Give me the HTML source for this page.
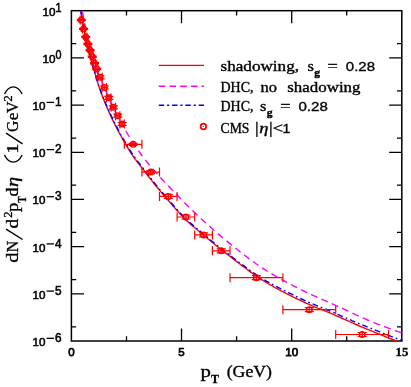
<!DOCTYPE html>
<html><head><meta charset="utf-8"><title>plot</title>
<style>html,body{margin:0;padding:0;background:#fff}svg{display:block}</style></head>
<body>
<svg width="411" height="387" viewBox="0 0 411 387">
<rect width="411" height="387" fill="#fff"/>
<filter id="gs" x="0" y="0" width="100%" height="100%" filterUnits="userSpaceOnUse" color-interpolation-filters="sRGB"><feColorMatrix type="saturate" values="0"/></filter>
<clipPath id="c"><rect x="71.4" y="11.299999999999999" width="331.2" height="330.5"/></clipPath>
<g stroke="#000" stroke-width="1.5" fill="none">
<rect x="71.4" y="10.7" width="330.4" height="330.3"/>
<path d="M71.4,326.8h4.8M401.8,326.8h-4.8M71.4,293.8h12.6M401.8,293.8h-12.6M71.4,279.6h4.8M401.8,279.6h-4.8M71.4,246.6h12.6M401.8,246.6h-12.6M71.4,232.4h4.8M401.8,232.4h-4.8M71.4,199.4h12.6M401.8,199.4h-12.6M71.4,185.2h4.8M401.8,185.2h-4.8M71.4,152.3h12.6M401.8,152.3h-12.6M71.4,138.1h4.8M401.8,138.1h-4.8M71.4,105.1h12.6M401.8,105.1h-12.6M71.4,90.9h4.8M401.8,90.9h-4.8M71.4,57.9h12.6M401.8,57.9h-12.6M71.4,43.7h4.8M401.8,43.7h-4.8M126.5,341.0v-4.8M126.5,10.7v4.8M181.5,341.0v-12.6M181.5,10.7v12.6M236.6,341.0v-4.8M236.6,10.7v4.8M291.7,341.0v-12.6M291.7,10.7v12.6M346.7,341.0v-4.8M346.7,10.7v4.8" stroke-width="1.3"/>
</g>
<g clip-path="url(#c)" fill="none" stroke-width="1.4">
<path d="M78.0,-10.3 L79.2,-0.3 L80.4,8.4 L81.7,16.3 L82.9,23.4 L84.1,29.9 L85.3,36.0 L86.5,41.6 L87.8,46.9 L89.0,51.9 L90.2,56.6 L91.4,61.1 L92.6,65.4 L93.9,69.7 L95.1,73.9 L96.3,78.0 L97.5,81.9 L98.7,85.8 L100.0,89.5 L101.2,92.9 L102.4,96.2 L103.6,99.3 L104.8,102.3 L106.0,105.3 L107.3,108.1 L108.5,110.9 L109.7,113.6 L110.9,116.3 L112.1,118.9 L113.4,121.4 L114.6,123.9 L115.8,126.3 L117.0,128.7 L118.2,131.0 L119.5,133.3 L120.7,135.5 L121.9,137.7 L123.1,139.9 L124.3,142.0 L125.6,144.1 L126.8,146.2 L128.0,148.2 L129.2,150.2 L130.4,152.2 L131.7,154.1 L132.9,155.9 L134.1,157.6 L135.3,159.3 L136.5,160.9 L137.8,162.5 L139.0,164.1 L140.2,165.6 L141.4,167.2 L142.6,168.7 L143.9,170.3 L145.1,171.9 L146.3,173.5 L147.5,175.1 L148.7,176.7 L150.0,178.3 L151.2,179.9 L152.4,181.4 L153.6,183.0 L154.8,184.5 L156.0,186.0 L157.3,187.5 L158.5,189.0 L159.7,190.4 L160.9,191.9 L162.1,193.3 L163.4,194.7 L164.6,196.1 L165.8,197.5 L167.0,199.0 L168.2,200.4 L169.5,201.8 L170.7,203.2 L171.9,204.6 L173.1,206.0 L174.3,207.4 L175.6,208.8 L176.8,210.2 L178.0,211.6 L179.2,212.9 L180.4,214.3 L181.7,215.6 L182.9,216.8 L184.1,218.1 L185.3,219.3 L186.5,220.5 L187.8,221.6 L189.0,222.7 L190.2,223.8 L191.4,224.9 L192.6,225.9 L193.9,227.0 L195.1,228.0 L196.3,229.0 L197.5,230.0 L198.7,231.0 L200.0,232.1 L201.2,233.1 L202.4,234.1 L203.6,235.2 L204.8,236.2 L206.0,237.3 L207.3,238.3 L208.5,239.3 L209.7,240.3 L210.9,241.3 L212.1,242.3 L213.4,243.3 L214.6,244.3 L215.8,245.3 L217.0,246.3 L218.2,247.3 L219.5,248.2 L220.7,249.2 L221.9,250.1 L223.1,251.1 L224.3,252.0 L225.6,253.0 L226.8,253.9 L228.0,254.8 L229.2,255.8 L230.4,256.7 L231.7,257.6 L232.9,258.6 L234.1,259.5 L235.3,260.5 L236.5,261.4 L237.8,262.3 L239.0,263.3 L240.2,264.2 L241.4,265.2 L242.6,266.1 L243.9,267.0 L245.1,267.9 L246.3,268.8 L247.5,269.8 L248.7,270.7 L250.0,271.6 L251.2,272.4 L252.4,273.3 L253.6,274.2 L254.8,275.0 L256.0,275.9 L257.3,276.7 L258.5,277.5 L259.7,278.4 L260.9,279.1 L262.1,279.9 L263.4,280.7 L264.6,281.4 L265.8,282.2 L267.0,282.9 L268.2,283.6 L269.5,284.3 L270.7,285.0 L271.9,285.7 L273.1,286.4 L274.3,287.1 L275.6,287.8 L276.8,288.4 L278.0,289.1 L279.2,289.8 L280.4,290.4 L281.7,291.1 L282.9,291.7 L284.1,292.3 L285.3,293.0 L286.5,293.6 L287.8,294.2 L289.0,294.8 L290.2,295.4 L291.4,296.1 L292.6,296.7 L293.9,297.3 L295.1,297.9 L296.3,298.5 L297.5,299.1 L298.7,299.6 L300.0,300.2 L301.2,300.8 L302.4,301.4 L303.6,301.9 L304.8,302.5 L306.0,303.1 L307.3,303.6 L308.5,304.2 L309.7,304.7 L310.9,305.2 L312.1,305.8 L313.4,306.3 L314.6,306.8 L315.8,307.3 L317.0,307.8 L318.2,308.3 L319.5,308.7 L320.7,309.2 L321.9,309.7 L323.1,310.2 L324.3,310.6 L325.6,311.1 L326.8,311.6 L328.0,312.1 L329.2,312.6 L330.4,313.1 L331.7,313.7 L332.9,314.2 L334.1,314.7 L335.3,315.3 L336.5,315.8 L337.8,316.4 L339.0,316.9 L340.2,317.4 L341.4,318.0 L342.6,318.5 L343.9,319.1 L345.1,319.6 L346.3,320.1 L347.5,320.7 L348.7,321.2 L350.0,321.8 L351.2,322.3 L352.4,322.9 L353.6,323.4 L354.8,323.9 L356.0,324.5 L357.3,325.0 L358.5,325.5 L359.7,326.1 L360.9,326.6 L362.1,327.1 L363.4,327.6 L364.6,328.1 L365.8,328.7 L367.0,329.2 L368.2,329.7 L369.5,330.2 L370.7,330.7 L371.9,331.2 L373.1,331.7 L374.3,332.2 L375.6,332.7 L376.8,333.2 L378.0,333.7 L379.2,334.2 L380.4,334.7 L381.7,335.2 L382.9,335.6 L384.1,336.1 L385.3,336.6 L386.5,337.1 L387.8,337.6 L389.0,338.1 L390.2,338.6 L391.4,339.0 L392.6,339.5 L393.9,340.0 L395.1,340.5 L396.3,340.9 L397.5,341.4 L398.7,341.9 L400.0,342.4 L401.2,342.8 L402.4,343.3" stroke="#ff0000"/>
<path d="M78.0,-19.8L78.2,-18.1M79.0,-11.4L79.8,-5.3M80.6,0.3L81.5,5.6M82.5,11.8L83.5,17.6M84.5,23.1L85.7,29.5M86.7,34.4L88.2,41.0M89.4,46.1L90.8,51.7M92.2,57.0L94.3,63.6M95.9,67.8L98.3,73.2L98.7,74.1M100.6,78.5L103.0,84.3L103.2,84.7M105.2,89.5L107.7,95.1L107.9,95.6M109.9,100.2L112.3,105.6L112.8,106.5M114.8,110.7L117.2,115.5L117.8,116.6M120.1,120.8L122.5,125.3L123.5,127.1M125.8,130.9L128.2,135.0L129.4,137.0M131.9,140.9L134.3,144.6L135.7,146.8M138.4,150.6L140.8,154.0L142.4,156.2M145.3,159.9L147.7,163.0L149.5,165.2M152.6,168.8L155.0,171.6L157.3,174.1M160.3,177.4L162.8,180.0L165.0,182.4M168.2,185.8L170.7,188.3L173.1,190.9L173.1,190.9M176.2,194.1L178.6,196.6L181.0,199.1L181.0,199.1M184.3,202.4L186.7,204.9L189.2,207.3L189.2,207.3M192.4,210.5L194.9,212.8L197.3,215.1L197.5,215.3M200.8,218.4L203.2,220.6L205.6,222.8L205.8,223.0M209.3,226.1L211.7,228.3L214.2,230.4L214.4,230.6M217.8,233.6L220.3,235.6L222.7,237.7L223.1,238.0M226.6,240.9L229.0,242.9L231.5,244.9L231.9,245.2M235.3,248.0L237.8,250.0L240.2,251.9L240.6,252.2M244.1,254.9L246.5,256.7L248.9,258.6L249.3,258.9M253.0,261.5L255.4,263.3L257.9,265.0L258.5,265.4M262.1,267.8L264.6,269.4L267.0,271.0L267.8,271.5M271.5,273.7L273.9,275.1L276.4,276.6L277.4,277.1M281.3,279.3L283.7,280.6L286.1,281.9L287.1,282.5M291.0,284.5L293.4,285.8L295.9,287.0L297.1,287.7M301.0,289.6L303.4,290.8L305.8,292.0L307.1,292.6M311.1,294.5L313.6,295.6L316.0,296.7L317.4,297.4M321.3,299.1L323.7,300.2L326.2,301.2L327.8,301.9M331.7,303.6L334.1,304.7L336.5,305.8L338.2,306.5M342.0,308.2L344.5,309.4L346.9,310.5L348.3,311.2M352.4,313.1L354.8,314.2L357.3,315.4L358.7,316.0M362.8,317.9L365.2,318.9L367.6,320.0L369.3,320.7M373.3,322.3L375.8,323.3L378.2,324.3L379.8,324.9M384.1,326.5L386.5,327.4L389.0,328.3L390.6,328.9M394.9,330.5L397.3,331.4L399.7,332.2L401.6,332.8" stroke="#ff00ff"/>
<path d="M78.4,-6.8L78.4,-6.8M79.0,-1.9L79.6,2.7M80.0,5.6L80.2,7.0M80.8,11.1L81.5,15.0M82.3,19.9L82.3,19.9M83.1,24.5L83.9,28.9M84.7,33.0L84.9,34.0M85.5,37.0L86.7,42.5M87.6,46.1L87.8,46.9M88.6,50.3L89.8,55.1M90.8,58.9L91.0,59.7M92.0,63.3L93.4,68.3M94.5,71.8L94.9,73.2M95.7,75.9L97.3,81.2M98.3,84.4L98.7,85.6M100.0,89.1L101.8,94.1M103.0,97.1L103.6,98.6M104.8,101.4L107.1,106.6M108.5,109.7L109.1,111.1M110.3,113.8L112.8,119.0L112.8,119.0M114.2,121.9L114.8,123.1M116.2,125.9L118.7,130.6L118.9,131.0M120.5,134.0L121.1,135.1M122.7,138.0L125.2,142.2L125.6,142.9M127.0,145.3L127.8,146.7M129.4,149.4L131.9,153.2L132.7,154.4M134.3,156.7L135.3,158.1M137.1,160.6L139.6,163.7L140.6,165.0M142.6,167.6L143.7,168.9M145.5,171.3L147.9,174.5L148.9,175.9M150.8,178.3L151.8,179.6M153.6,181.9L156.0,184.9L157.3,186.4M159.3,188.9L160.3,190.1M162.1,192.2L164.6,195.1L166.0,196.7M168.0,199.1L169.1,200.3M171.1,202.6L173.5,205.5L174.7,206.9M176.8,209.2L178.0,210.6M180.0,212.8L182.5,215.4L183.9,216.9M186.1,219.1L187.3,220.2M189.6,222.3L192.0,224.4L193.9,226.0M196.3,228.0L197.5,229.0M199.7,230.9L202.2,233.0L204.2,234.7M206.5,236.6L207.9,237.8M210.1,239.7L212.6,241.7L214.6,243.3M217.0,245.3L218.2,246.3M220.7,248.2L223.1,250.1L225.2,251.7M227.6,253.5L229.0,254.6M231.3,256.3L233.7,258.2L235.9,259.9M238.4,261.8L239.6,262.7M242.0,264.5L244.5,266.3L246.7,268.0M249.1,269.7L250.6,270.8M253.0,272.5L255.4,274.1L257.9,275.8L257.9,275.8M260.3,277.3L261.7,278.2M264.4,279.8L266.8,281.3L269.3,282.7L269.3,282.7M271.9,284.1L273.5,285.0M276.2,286.4L278.6,287.7L281.0,288.9L281.3,289.0M283.9,290.4L285.5,291.2M288.2,292.5L290.6,293.7L293.0,294.9L293.4,295.1M296.1,296.4L297.5,297.1M300.2,298.3L302.6,299.5L305.0,300.6L305.6,300.9M308.3,302.1L309.9,302.8M312.6,303.9L315.0,304.9L317.4,305.9L318.0,306.2M320.7,307.2L322.3,307.8M325.2,309.0L327.6,310.0L330.0,311.0L330.4,311.1M333.3,312.4L334.9,313.1M337.6,314.3L340.0,315.3L342.4,316.4L342.8,316.6M345.7,317.9L347.1,318.5M350.0,319.7L352.4,320.8L354.8,321.8L355.2,322.0M358.1,323.2L359.5,323.8M362.3,324.9L364.8,325.9L367.2,326.9L367.6,327.1M370.5,328.2L372.1,328.8M374.7,329.9L377.2,330.9L379.6,331.8L380.2,332.1M383.1,333.2L384.7,333.8M387.3,334.9L389.8,335.8L392.2,336.8L392.8,337.0M395.7,338.1L397.3,338.8M400.0,339.8L402.4,340.7L403.0,340.9" stroke="#0000ff"/>
</g>
<g stroke="#ff0000" stroke-width="1.2" fill="none">
<path d="M80.2,20.0H82.4M80.2,15.5v9.0M82.4,15.5v9.0M81.3,19.4v1.2M76.8,19.4h9.0M76.8,20.6h9.0"/>
<circle cx="81.3" cy="20.0" r="2.8" stroke-width="1.4"/>
<path d="M82.4,28.9H84.6M82.4,24.4v9.0M84.6,24.4v9.0M83.5,28.299999999999997v1.2M79.0,28.299999999999997h9.0M79.0,29.5h9.0"/>
<circle cx="83.5" cy="28.9" r="2.8" stroke-width="1.4"/>
<path d="M84.6,36.9H86.8M84.6,32.4v9.0M86.8,32.4v9.0M85.7,36.3v1.2M81.2,36.3h9.0M81.2,37.5h9.0"/>
<circle cx="85.7" cy="36.9" r="2.8" stroke-width="1.4"/>
<path d="M86.8,44H89.0M86.8,39.5v9.0M89.0,39.5v9.0M87.9,43.4v1.2M83.4,43.4h9.0M83.4,44.6h9.0"/>
<circle cx="87.9" cy="44" r="2.8" stroke-width="1.4"/>
<path d="M89.0,50.3H91.2M89.0,45.8v9.0M91.2,45.8v9.0M90.1,49.699999999999996v1.2M85.6,49.699999999999996h9.0M85.6,50.9h9.0"/>
<circle cx="90.1" cy="50.3" r="2.8" stroke-width="1.4"/>
<path d="M91.2,56.8H93.4M91.2,52.3v9.0M93.4,52.3v9.0M92.3,56.199999999999996v1.2M87.8,56.199999999999996h9.0M87.8,57.4h9.0"/>
<circle cx="92.3" cy="56.8" r="2.8" stroke-width="1.4"/>
<path d="M93.4,63.3H95.6M93.4,58.8v9.0M95.6,58.8v9.0M94.5,62.699999999999996v1.2M90.0,62.699999999999996h9.0M90.0,63.9h9.0"/>
<circle cx="94.5" cy="63.3" r="2.8" stroke-width="1.4"/>
<path d="M95.6,69H97.8M95.6,64.5v9.0M97.8,64.5v9.0M96.7,68.4v1.2M92.2,68.4h9.0M92.2,69.6h9.0"/>
<circle cx="96.7" cy="69" r="2.8" stroke-width="1.4"/>
<path d="M97.8,77.3H102.2M97.8,72.8v9.0M102.2,72.8v9.0M100.0,75.8v3.0M95.5,75.8h9.0M95.5,78.8h9.0"/>
<circle cx="100.0" cy="77.3" r="2.8" stroke-width="1.4"/>
<path d="M102.2,87.5H106.6M102.2,83.0v9.0M106.6,83.0v9.0M104.4,86.0v3.0M99.9,86.0h9.0M99.9,89.0h9.0"/>
<circle cx="104.4" cy="87.5" r="2.8" stroke-width="1.4"/>
<path d="M106.6,97.8H111.0M106.6,93.3v9.0M111.0,93.3v9.0M108.8,96.3v3.0M104.3,96.3h9.0M104.3,99.3h9.0"/>
<circle cx="108.8" cy="97.8" r="2.8" stroke-width="1.4"/>
<path d="M111.0,107.3H115.5M111.0,102.8v9.0M115.5,102.8v9.0M113.3,105.8v3.0M108.8,105.8h9.0M108.8,108.8h9.0"/>
<circle cx="113.3" cy="107.3" r="2.8" stroke-width="1.4"/>
<path d="M115.5,115.7H119.9M115.5,111.2v9.0M119.9,111.2v9.0M117.7,114.2v3.0M113.2,114.2h9.0M113.2,117.2h9.0"/>
<circle cx="117.7" cy="115.7" r="2.8" stroke-width="1.4"/>
<path d="M119.9,124.0H124.3M119.9,119.5v9.0M124.3,119.5v9.0M122.1,122.5v3.0M117.6,122.5h9.0M117.6,125.5h9.0"/>
<circle cx="122.1" cy="124.0" r="2.8" stroke-width="1.4"/>
<path d="M124.3,144.3H141.9M124.3,139.8v9.0M141.9,139.8v9.0M133.1,143.3v2.0M128.6,143.3h9.0M128.6,145.3h9.0"/>
<circle cx="133.1" cy="144.3" r="2.8" stroke-width="1.4"/>
<path d="M141.9,172.1H159.5M141.9,167.6v9.0M159.5,167.6v9.0M150.7,170.6v3.0M146.2,170.6h9.0M146.2,173.6h9.0"/>
<circle cx="150.7" cy="172.1" r="2.8" stroke-width="1.4"/>
<path d="M159.5,196.4H177.1M159.5,191.9v9.0M177.1,191.9v9.0M168.3,194.4v4.0M163.8,194.4h9.0M163.8,198.4h9.0"/>
<circle cx="168.3" cy="196.4" r="2.8" stroke-width="1.4"/>
<path d="M177.1,217.0H194.7M177.1,212.5v9.0M194.7,212.5v9.0M185.9,215.0v4.0M181.4,215.0h9.0M181.4,219.0h9.0"/>
<circle cx="185.9" cy="217.0" r="2.8" stroke-width="1.4"/>
<path d="M194.7,234.9H212.4M194.7,230.4v9.0M212.4,230.4v9.0M203.6,232.9v4.0M199.1,232.9h9.0M199.1,236.9h9.0"/>
<circle cx="203.6" cy="234.9" r="2.8" stroke-width="1.4"/>
<path d="M212.4,250.8H230.0M212.4,246.3v9.0M230.0,246.3v9.0M221.2,248.8v4.0M216.7,248.8h9.0M216.7,252.8h9.0"/>
<circle cx="221.2" cy="250.8" r="2.8" stroke-width="1.4"/>
<path d="M230.0,277.7H282.9M230.0,273.2v9.0M282.9,273.2v9.0M256.4,275.7v4.0M251.9,275.7h9.0M251.9,279.7h9.0"/>
<circle cx="256.4" cy="277.7" r="2.8" stroke-width="1.4"/>
<path d="M282.9,309.7H335.7M282.9,305.2v9.0M335.7,305.2v9.0M309.3,307.7v4.0M304.8,307.7h9.0M304.8,311.7h9.0"/>
<circle cx="309.3" cy="309.7" r="2.8" stroke-width="1.4"/>
<path d="M335.7,334.5H388.6M335.7,330.0v9.0M388.6,330.0v9.0M362.2,332.5v4.0M357.7,332.5h9.0M357.7,336.5h9.0"/>
<circle cx="362.2" cy="334.5" r="2.8" stroke-width="1.4"/>
</g>
<g fill="none" stroke-width="1.4">
<path d="M158.8,65.4H204" stroke="#ff0000"/>
<path d="M158.8,86.2H204" stroke="#ff00ff" stroke-dasharray="6.6 4.1"/>
<path d="M158.8,105.3H204" stroke="#0000ff" stroke-dasharray="5.4 2.9 2.1 2.9"/>
<circle cx="203.4" cy="126.5" r="2.8" stroke="#ff0000" stroke-width="1.7"/><circle cx="203.4" cy="126.5" r="0.6" fill="#ff0000" stroke="none"/>
</g>
<g filter="url(#gs)">
<g fill="#000" stroke="#000" stroke-width="0.35">
<text x="220.5" y="71.1" font-family="Liberation Serif, serif" font-size="14.5" textLength="78.5" lengthAdjust="spacingAndGlyphs" >shadowing,</text>
<text x="307.6" y="71.1" font-family="Liberation Serif, serif" font-size="14.5" textLength="6.4" lengthAdjust="spacingAndGlyphs" >s</text>
<text x="314.2" y="75.89999999999999" font-family="Liberation Serif, serif" font-size="11" textLength="5.8" lengthAdjust="spacingAndGlyphs" font-weight="bold">g</text>
<text x="327.4" y="71.1" font-family="Liberation Serif, serif" font-size="14.5" textLength="10.3" lengthAdjust="spacingAndGlyphs" >=</text>
<text x="345.8" y="71.1" font-family="Liberation Sans, sans-serif" font-size="13.5" textLength="29.2" lengthAdjust="spacingAndGlyphs" >0.28</text>
<text x="220.5" y="91.6" font-family="Liberation Serif, serif" font-size="14.5" textLength="33.0" lengthAdjust="spacingAndGlyphs" >DHC,</text>
<text x="260.5" y="91.6" font-family="Liberation Serif, serif" font-size="14.5" textLength="16.5" lengthAdjust="spacingAndGlyphs" >no</text>
<text x="287.3" y="91.6" font-family="Liberation Serif, serif" font-size="14.5" textLength="73.2" lengthAdjust="spacingAndGlyphs" >shadowing</text>
<text x="220.5" y="111.3" font-family="Liberation Serif, serif" font-size="14.5" textLength="33.0" lengthAdjust="spacingAndGlyphs" >DHC,</text>
<text x="260.1" y="111.3" font-family="Liberation Serif, serif" font-size="14.5" textLength="6.4" lengthAdjust="spacingAndGlyphs" >s</text>
<text x="266.7" y="116.1" font-family="Liberation Serif, serif" font-size="11" textLength="5.8" lengthAdjust="spacingAndGlyphs" font-weight="bold">g</text>
<text x="280.3" y="111.3" font-family="Liberation Serif, serif" font-size="14.5" textLength="10.3" lengthAdjust="spacingAndGlyphs" >=</text>
<text x="298.5" y="111.3" font-family="Liberation Sans, sans-serif" font-size="13.5" textLength="29.3" lengthAdjust="spacingAndGlyphs" >0.28</text>
<text x="220.5" y="133.3" font-family="Liberation Serif, serif" font-size="14.5" textLength="29.0" lengthAdjust="spacingAndGlyphs" >CMS</text>
<text x="259.2" y="133.3" font-family="Liberation Serif, serif" font-size="14.5" textLength="9.2" lengthAdjust="spacingAndGlyphs" font-style="italic">η</text>
<text x="272.4" y="133.3" font-family="Liberation Serif, serif" font-size="14.5" textLength="10.6" lengthAdjust="spacingAndGlyphs" >&lt;</text>
<text x="282.6" y="133.3" font-family="Liberation Sans, sans-serif" font-size="13.5" textLength="7.8" lengthAdjust="spacingAndGlyphs" >1</text>
<path d="M256.9,121.8V137M270.9,121.8V137" stroke-width="1.3" fill="none"/>
</g>
<g fill="#000" stroke="#000" stroke-width="0.55" font-family="Liberation Sans, sans-serif" font-size="11.5">
<text x="32.6" y="345.9" font-family="Liberation Sans, sans-serif" font-size="11.5" textLength="12.9" lengthAdjust="spacingAndGlyphs" >10</text>
<path d="M46.6,338.3h7.4" stroke-width="1.3" fill="none"/>
<text x="55.0" y="341.9" font-family="Liberation Sans, sans-serif" font-size="12" textLength="6.6" lengthAdjust="spacingAndGlyphs" >6</text>
<text x="32.6" y="298.7142857142857" font-family="Liberation Sans, sans-serif" font-size="11.5" textLength="12.9" lengthAdjust="spacingAndGlyphs" >10</text>
<path d="M46.6,291.1h7.4" stroke-width="1.3" fill="none"/>
<text x="55.0" y="294.7142857142857" font-family="Liberation Sans, sans-serif" font-size="12" textLength="6.6" lengthAdjust="spacingAndGlyphs" >5</text>
<text x="32.6" y="251.52857142857144" font-family="Liberation Sans, sans-serif" font-size="11.5" textLength="12.9" lengthAdjust="spacingAndGlyphs" >10</text>
<path d="M46.6,243.9h7.4" stroke-width="1.3" fill="none"/>
<text x="55.0" y="247.52857142857144" font-family="Liberation Sans, sans-serif" font-size="12" textLength="6.6" lengthAdjust="spacingAndGlyphs" >4</text>
<text x="32.6" y="204.34285714285716" font-family="Liberation Sans, sans-serif" font-size="11.5" textLength="12.9" lengthAdjust="spacingAndGlyphs" >10</text>
<path d="M46.6,196.7h7.4" stroke-width="1.3" fill="none"/>
<text x="55.0" y="200.34285714285716" font-family="Liberation Sans, sans-serif" font-size="12" textLength="6.6" lengthAdjust="spacingAndGlyphs" >3</text>
<text x="32.6" y="157.15714285714287" font-family="Liberation Sans, sans-serif" font-size="11.5" textLength="12.9" lengthAdjust="spacingAndGlyphs" >10</text>
<path d="M46.6,149.6h7.4" stroke-width="1.3" fill="none"/>
<text x="55.0" y="153.15714285714287" font-family="Liberation Sans, sans-serif" font-size="12" textLength="6.6" lengthAdjust="spacingAndGlyphs" >2</text>
<text x="32.6" y="109.97142857142859" font-family="Liberation Sans, sans-serif" font-size="11.5" textLength="12.9" lengthAdjust="spacingAndGlyphs" >10</text>
<path d="M46.6,102.4h7.4" stroke-width="1.3" fill="none"/>
<text x="55.0" y="105.97142857142859" font-family="Liberation Sans, sans-serif" font-size="12" textLength="6.6" lengthAdjust="spacingAndGlyphs" >1</text>
<text x="42.4" y="62.785714285714285" font-family="Liberation Sans, sans-serif" font-size="11.5" textLength="13.0" lengthAdjust="spacingAndGlyphs" >10</text>
<text x="55.6" y="58.785714285714285" font-family="Liberation Sans, sans-serif" font-size="12" textLength="6.0" lengthAdjust="spacingAndGlyphs" >0</text>
<text x="42.4" y="15.6" font-family="Liberation Sans, sans-serif" font-size="11.5" textLength="13.0" lengthAdjust="spacingAndGlyphs" >10</text>
<text x="55.6" y="11.6" font-family="Liberation Sans, sans-serif" font-size="12" textLength="6.0" lengthAdjust="spacingAndGlyphs" >1</text>
<text x="68.2" y="356.0" font-family="Liberation Sans, sans-serif" font-size="11.5" textLength="6.4" lengthAdjust="spacingAndGlyphs" stroke-width="0.75">0</text>
<text x="178.3" y="356.0" font-family="Liberation Sans, sans-serif" font-size="11.5" textLength="6.4" lengthAdjust="spacingAndGlyphs" stroke-width="0.75">5</text>
<text x="285.2" y="356.0" font-family="Liberation Sans, sans-serif" font-size="11.5" textLength="13.0" lengthAdjust="spacingAndGlyphs" stroke-width="0.75">10</text>
<text x="395.6" y="356.0" font-family="Liberation Serif, serif" font-size="12.3" textLength="12.8" lengthAdjust="spacingAndGlyphs" font-weight="bold" stroke-width="0.3">15</text>
</g>
<g fill="#000" stroke="#000" stroke-width="0.35">
<text x="200.4" y="377.4" font-family="Liberation Serif, serif" font-size="17" textLength="10.4" lengthAdjust="spacingAndGlyphs" >p</text>
<text x="211.0" y="383.0" font-family="Liberation Serif, serif" font-size="12.5" textLength="8.0" lengthAdjust="spacingAndGlyphs" font-weight="bold">T</text>
<text x="226.7" y="377.4" font-family="Liberation Serif, serif" font-size="17" textLength="45.3" lengthAdjust="spacingAndGlyphs" >(GeV)</text>
<g transform="translate(18.1,0) rotate(-90)">
<text x="-262.66" y="0" font-family="Liberation Serif, serif" font-size="17" textLength="10.2" lengthAdjust="spacingAndGlyphs" >d</text>
<text x="-252.22" y="0" font-family="Liberation Serif, serif" font-size="17" textLength="11.4" lengthAdjust="spacingAndGlyphs" >N</text>
<text x="-228.44" y="0" font-family="Liberation Serif, serif" font-size="17" textLength="9.7" lengthAdjust="spacingAndGlyphs" >d</text>
<text x="-217.78" y="-6.6" font-family="Liberation Serif, serif" font-size="12.5" textLength="6.1" lengthAdjust="spacingAndGlyphs" >2</text>
<text x="-211.91" y="0" font-family="Liberation Serif, serif" font-size="17" textLength="9.4" lengthAdjust="spacingAndGlyphs" >p</text>
<text x="-202.69" y="7.6" font-family="Liberation Serif, serif" font-size="12.5" textLength="6.4" lengthAdjust="spacingAndGlyphs" font-weight="bold">T</text>
<text x="-196.41" y="0" font-family="Liberation Serif, serif" font-size="17" textLength="9.0" lengthAdjust="spacingAndGlyphs" >d</text>
<text x="-187.06" y="0" font-family="Liberation Serif, serif" font-size="17" textLength="10.2" lengthAdjust="spacingAndGlyphs" ><tspan font-style="italic">η</tspan></text>
<text x="-153.8" y="0" font-family="Liberation Serif, serif" font-size="17" textLength="10.2" lengthAdjust="spacingAndGlyphs" >1</text>
<text x="-132.11" y="0" font-family="Liberation Serif, serif" font-size="17" textLength="11.2" lengthAdjust="spacingAndGlyphs" >G</text>
<text x="-120.35" y="0" font-family="Liberation Serif, serif" font-size="17" textLength="7.7" lengthAdjust="spacingAndGlyphs" >e</text>
<text x="-113.12" y="0" font-family="Liberation Serif, serif" font-size="17" textLength="11.6" lengthAdjust="spacingAndGlyphs" >V</text>
<text x="-101.38" y="-6.6" font-family="Liberation Serif, serif" font-size="12.5" textLength="6.1" lengthAdjust="spacingAndGlyphs" >2</text>
<path d="M-239.5,4.5L-229.2,-12M-143.8,4.5L-133.2,-12M-155,-13.6C-164.5,-9 -164.5,-0.6 -155,4M-94,-13.6C-84.5,-9 -84.5,-0.6 -94,4" stroke-width="1.4" fill="none"/>
</g></g>
</g>
</svg>
</body></html>
